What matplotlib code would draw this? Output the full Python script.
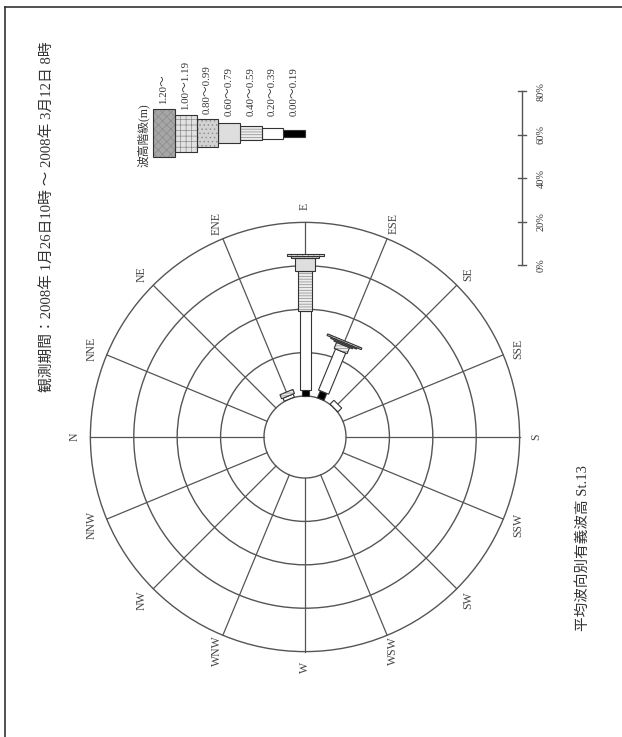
import numpy as np
import matplotlib
matplotlib.use("Agg")
import matplotlib.pyplot as plt
from matplotlib.patches import Polygon, Circle
from matplotlib.lines import Line2D

plt.rcParams["hatch.linewidth"] = 0.5

# ---- data -------------------------------------------------------------
directions = ["N", "NNE", "NE", "ENE", "E", "ESE", "SE", "SSE",
              "S", "SSW", "SW", "WSW", "W", "WNW", "NW", "NNW"]
class_labels = ["0.00～0.19", "0.20～0.39", "0.40～0.59", "0.60～0.79",
                "0.80～0.99", "1.00～1.19", "1.20～"]
# occurrence frequency (%) by direction for each wave-height class
freq_000_019 = [0, 0, 0, 0.0, 2.8, 3.5, 0.0, 0, 0, 0, 0, 0, 0, 0, 0, 0]
freq_020_039 = [0, 0, 0, 1.5, 36.4, 20.5, 2.5, 0, 0, 0, 0, 0, 0, 0, 0, 0]
freq_040_059 = [0, 0, 0, 2.0, 18.4, 3.0, 0.0, 0, 0, 0, 0, 0, 0, 0, 0, 0]
freq_060_079 = [0, 0, 0, 0.0, 6.0, 0.6, 0.0, 0, 0, 0, 0, 0, 0, 0, 0, 0]
freq_080_099 = [0, 0, 0, 0.0, 0.9, 0.6, 0.0, 0, 0, 0, 0, 0, 0, 0, 0, 0]
freq_100_119 = [0, 0, 0, 0.0, 0.9, 0.8, 0.0, 0, 0, 0, 0, 0, 0, 0, 0, 0]
freq_120_up = [0, 0, 0, 0.0, 0.0, 0.0, 0.0, 0, 0, 0, 0, 0, 0, 0, 0, 0]
class_freqs = [freq_000_019, freq_020_039, freq_040_059, freq_060_079,
               freq_080_099, freq_100_119, freq_120_up]

ring_values = [20, 40, 60, 80]
scale_ticks = [0, 20, 40, 60, 80]
scale_tick_labels = ["0%", "20%", "40%", "60%", "80%"]

title_period = "観測期間：2008年 1月26日10時 ～ 2008年 3月12日 8時"
title_main = "平均波向別有義波高 St.13"
legend_title = "波高階級(m)"

# ---- layout / style ---------------------------------------------------
W, H = 622, 737
PX = 2.17            # pixels per percent
CX, CY = 305, 437    # rose centre (pixels from left / top)
R0 = 18.9            # radius of the calm circle, in percent units
LINE = "#555555"
TXT = "#333333"
SERIF = ["Liberation Serif", "Noto Sans CJK JP"]
CJK = ["Liberation Serif", "Noto Sans CJK JP"]

class_widths_px = [7, 11, 14, 20, 28, 37, 48]
class_styles = [
    dict(fc="black", hatch=None),
    dict(fc="white", hatch=None),
    dict(fc="#ececec", hatch="------"),
    dict(fc="#dedede", hatch=None),
    dict(fc="#d2d2d2", hatch="...."),
    dict(fc="#e2e2e2", hatch="+++"),
    dict(fc="#a6a6a6", hatch="xxxx"),
]


def pix(px, py):
    """Pixel position on the page -> data coordinates."""
    return (px - CX) / PX, (CY - py) / PX


fig = plt.figure(figsize=(W / 100, H / 100), dpi=100)
ax = fig.add_axes([0, 0, 1, 1])
ax.set_xlim(-CX / PX, (W - CX) / PX)
ax.set_ylim(-(H - CY) / PX, CY / PX)
ax.axis("off")

# page frame
fig.add_artist(Line2D([5 / W, 1], [1 - 7 / H, 1 - 7 / H], color="#333333", lw=1.2))
fig.add_artist(Line2D([5 / W, 5 / W], [0, 1 - 7 / H], color="#333333", lw=1.2))


def unit(theta_deg):
    t = np.deg2rad(theta_deg)
    # North points left, bearings run clockwise on the page
    return np.array([-np.cos(t), np.sin(t)]), np.array([np.sin(t), np.cos(t)])


# rings
ax.add_patch(Circle((0, 0), R0, fill=False, ec=LINE, lw=1.0, zorder=2))
for rv in ring_values:
    ax.add_patch(Circle((0, 0), R0 + rv, fill=False, ec=LINE, lw=1.0, zorder=2))

# spokes and direction names
outer = R0 + ring_values[-1]
for i, name in enumerate(directions):
    u, v = unit(22.5 * i)
    p0, p1 = u * R0, u * outer
    ax.plot([p0[0], p1[0]], [p0[1], p1[1]], color=LINE, lw=0.9, zorder=1)
    pl = u * (outer + 7.5)
    ax.text(pl[0], pl[1], name, rotation=90, ha="center", va="center",
            fontsize=8.5, family=SERIF, color="#444444")


def segment(ax, base, along, across, r_a, r_b, half_w, style, z):
    pts = [base + along * r_a + across * half_w,
           base + along * r_b + across * half_w,
           base + along * r_b - across * half_w,
           base + along * r_a - across * half_w]
    if style["hatch"]:
        ax.add_patch(Polygon(pts, closed=True, fc=style["fc"], ec="#8a8a8a",
                             hatch=style["hatch"], lw=0, zorder=z))
    else:
        ax.add_patch(Polygon(pts, closed=True, fc=style["fc"], lw=0, zorder=z))
    ax.add_patch(Polygon(pts, closed=True, fill=False, ec="#333333", lw=0.8, zorder=z + 0.1))


# stacked wave-height bars
for i in range(len(directions)):
    u, v = unit(22.5 * i)
    r = R0
    for k, series in enumerate(class_freqs):
        val = series[i]
        if val <= 0:
            continue
        hw = class_widths_px[k] / PX / 2
        segment(ax, np.zeros(2), u, v, r, r + val, hw, class_styles[k], 5 + k * 0.2)
        r += val

# legend: one 10 % block per class, laid out towards the page top
lx0, ly = pix(CX, 133)
label_floor = ly + 17 / PX
for k, lab in enumerate(class_labels):
    hw = class_widths_px[k] / PX / 2
    segment(ax, np.array([lx0, ly]), np.array([-1.0, 0.0]), np.array([0.0, 1.0]),
            10 * k, 10 * (k + 1), hw, class_styles[k], 5 + k * 0.2)
    ax.text(lx0 - 10 * k - 5, max(ly + hw + 5.0 / PX, label_floor), lab, rotation=90,
            rotation_mode="anchor", ha="left", va="center",
            fontsize=7.8, family=SERIF, color=TXT)
tx, ty = pix(143, 135)
ax.text(tx, ty, legend_title, rotation=90, ha="center", va="center",
        fontsize=8.5, family=CJK, color=TXT)

# percentage scale bar
sx, sy0 = pix(522, 265)
ax.plot([sx, sx], [sy0 + scale_ticks[0], sy0 + scale_ticks[-1]], color=LINE, lw=1.0)
for tv, tl in zip(scale_ticks, scale_tick_labels):
    ax.plot([sx - 4 / PX, sx + 4 / PX], [sy0 + tv, sy0 + tv], color=LINE, lw=1.0)
    ax.text(sx + 19 / PX, sy0 + tv, tl, rotation=90, ha="center", va="center",
            fontsize=7.5, family=SERIF, color=TXT)

# titles
px_, py_ = pix(48, 217)
ax.text(px_, py_, title_period, rotation=90, ha="center", va="center",
        fontsize=10.6, family=CJK, color=TXT)
px_, py_ = pix(583, 548)
ax.text(px_, py_, title_main, rotation=90, ha="center", va="center",
        fontsize=10.5, family=CJK, color=TXT)

fig.savefig("out.png", dpi=100, facecolor="white")
